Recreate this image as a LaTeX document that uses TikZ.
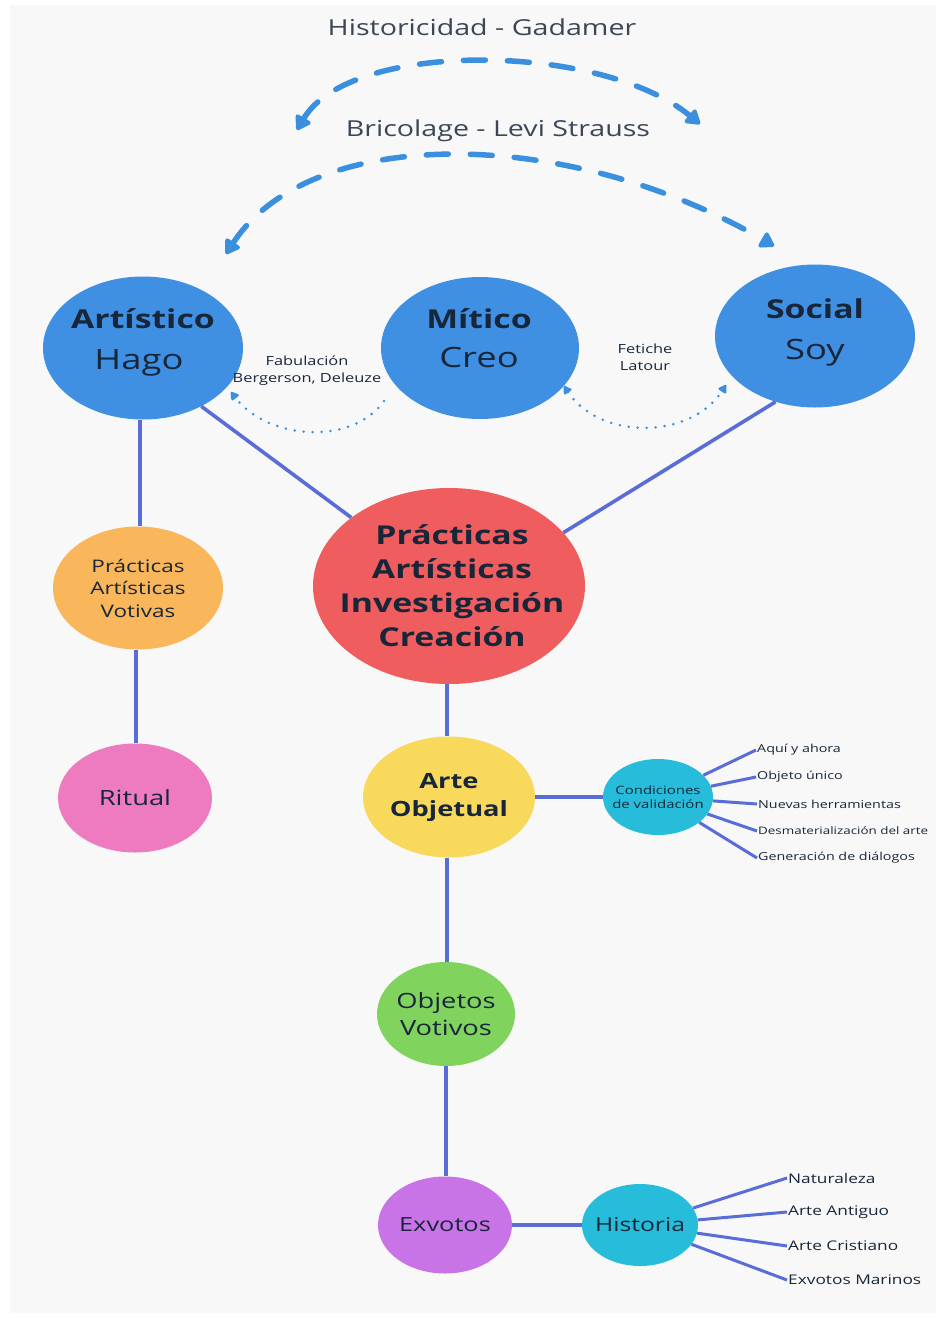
\documentclass[tikz,border=0pt]{standalone}
\usepackage{fontspec}
\setmainfont{Open Sans}[FakeStretch=1.3]
\usetikzlibrary{shapes.geometric,arrows.meta}
\definecolor{bgc}{HTML}{F8F8F8}
\definecolor{cblue}{HTML}{3F8FE2}
\definecolor{cred}{HTML}{F05D5E}
\definecolor{corange}{HTML}{F9B65A}
\definecolor{cpink}{HTML}{EE7BC0}
\definecolor{cyellow}{HTML}{F8D95C}
\definecolor{ccyan}{HTML}{27BCD9}
\definecolor{cgreen}{HTML}{80D35C}
\definecolor{cpurple}{HTML}{C873E6}
\definecolor{cline}{HTML}{5A6CD8}
\definecolor{ctext}{HTML}{18263A}
\definecolor{carc}{HTML}{3B8FDF}
\begin{document}
\begin{tikzpicture}[x=1pt,y=-1pt,
  bubble/.style={ellipse, draw=none, inner sep=0pt},
  intxt/.style={text=ctext, align=center, inner sep=0pt},
  conn/.style={draw=cline, line width=3.6pt},
  twig/.style={draw=cline, line width=3pt},
  dasharc/.style={draw=carc, line width=5.5pt, line cap=round, dash pattern=on 22pt off 22pt},
  dotarc/.style={draw=carc, line width=2.8pt, line cap=round, dash pattern=on 0pt off 9pt},
  bigtips/.style={{Triangle[width=19pt,length=16pt,round]}-{Triangle[width=19pt,length=16pt,round]}},
  smalltip/.style={-{Triangle[width=10pt,length=9pt,round]}},
  smalltips/.style={{Triangle[width=10pt,length=9pt,round]}-{Triangle[width=10pt,length=9pt,round]}},
  ttl/.style={text=ctext!85, font=\fontsize{22}{26}\selectfont},
  headA/.style={text=ctext, anchor=base, font=\fontsize{26}{30}\selectfont\bfseries},
  headB/.style={text=ctext, anchor=base, font=\fontsize{28}{30}\selectfont},
  small/.style={text=ctext, font=\fontsize{12.6}{17}\selectfont, align=center},
  leaf/.style={text=ctext, anchor=west, inner sep=1pt, font=\fontsize{11}{13}\selectfont},
  leafb/.style={text=ctext, anchor=west, inner sep=1pt, font=\fontsize{13.3}{16}\selectfont}
]
\fill[white] (0,0) rectangle (936,1318);
\fill[bgc] (10,5) rectangle (936,1313);
\useasboundingbox (0,0) rectangle (936,1318);

% titles
\node[ttl] (hist) at (482,27) {Historicidad - Gadamer};
\node[ttl] (bric) at (498,131) {Bricolage - Levi Strauss};

% top bubbles
\node[bubble, fill=cblue, minimum width=200pt, minimum height=143pt] (art) at (143,348) {};
\node[headA] (artA) at (143,328) {Artístico};
\node[headB] (artB) at (139,369) {Hago};
\node[bubble, fill=cblue, minimum width=198pt, minimum height=142pt] (mit) at (480,348) {};
\node[headA] (mitA) at (479,328) {Mítico};
\node[headB] (mitB) at (479,367) {Creo};
\node[bubble, fill=cblue, minimum width=200pt, minimum height=143pt] (soc) at (815,336) {};
\node[headA] (socA) at (815,318) {Social};
\node[headB] (socB) at (815,359) {Soy};

% central and tree bubbles
\node[bubble, fill=cred, minimum width=272pt, minimum height=196pt,
  label={[intxt, font=\fontsize{26}{34}\selectfont\bfseries, xshift=3pt]center:Prácticas\\Artísticas\\Investigación\\Creación}] (pra) at (449,586) {};
\node[bubble, fill=corange, minimum width=170pt, minimum height=123pt,
  label={[intxt, font=\fontsize{17.3}{22.5}\selectfont]center:Prácticas\\Artísticas\\Votivas}] (vot) at (138,588) {};
\node[bubble, fill=cpink, minimum width=154pt, minimum height=109pt,
  label={[intxt, font=\fontsize{21}{24}\selectfont]center:Ritual}] (rit) at (135,798) {};
\node[bubble, fill=cyellow, minimum width=172pt, minimum height=121pt,
  label={[intxt, font=\fontsize{21}{28}\selectfont\bfseries]center:Arte\\Objetual}] (obj) at (449,797) {};
\node[bubble, fill=ccyan, minimum width=110pt, minimum height=76pt,
  label={[intxt, font=\fontsize{11.5}{14}\selectfont]center:Condiciones\\de validación}] (cond) at (658,797) {};
\node[bubble, fill=cgreen, minimum width=138pt, minimum height=104pt,
  label={[intxt, font=\fontsize{21}{27}\selectfont]center:Objetos\\Votivos}] (ovo) at (446,1014) {};
\node[bubble, fill=cpurple, minimum width=134pt, minimum height=97pt,
  label={[intxt, font=\fontsize{19.5}{22}\selectfont]center:Exvotos}] (exv) at (445,1225) {};
\node[bubble, fill=ccyan, minimum width=116pt, minimum height=82pt,
  label={[intxt, font=\fontsize{19}{22}\selectfont]center:Historia}] (his) at (640,1225) {};

% labels between bubbles
\node[small] (fab) at (307,371) {Fabulación\\Bergerson, Deleuze};
\node[small] (fet) at (645,357) {Fetiche\\Latour};

% leaves
\node[leaf] (l1) at (756,750) {Aquí y ahora};
\node[leaf] (l2) at (756,777) {Objeto único};
\node[leaf] (l3) at (757,804) {Nuevas herramientas};
\node[leaf, font=\fontsize{10.3}{13}\selectfont] (l4) at (757,831) {Desmaterialización del arte};
\node[leaf] (l5) at (757,858) {Generación de diálogos};

\node[leafb] (h1) at (787,1178) {Naturaleza};
\node[leafb] (h2) at (787,1212) {Arte Antiguo};
\node[leafb] (h3) at (787,1246) {Arte Cristiano};
\node[leafb] (h4) at (787,1280) {Exvotos Marinos};

% tree connectors
\draw[conn] (art.south -| 140,0) -- (vot.north -| 140,0);
\draw[conn] (vot.south -| 136,0) -- (rit.north -| 136,0);
\draw[conn] (art.-45) -- (pra.145);
\draw[conn] (soc.239) -- (pra.25);
\draw[conn] (pra.south -| 447,0) -- (obj.north -| 447,0);
\draw[conn] (obj.east) -- (cond.west);
\draw[conn] (obj.south -| 447,0) -- (ovo.north -| 447,0);
\draw[conn] (ovo.south -| 446,0) -- (exv.north -| 446,0);
\draw[conn] (exv.east) -- (his.west);

\foreach \l in {l1,l2,l3,l4,l5} \draw[twig] (cond) -- (\l.west);
\foreach \l in {h1,h2,h3,h4} \draw[twig] (his) -- (\l.west);

% dashed arcs
\coordinate (a1) at (297,130);
\coordinate (a2) at (700,124);
\coordinate (b1) at (226,254);
\coordinate (b2) at (774,246);
\draw[dasharc, bigtips] (a1) .. controls (350,40) and (600,42) .. (a2);
\draw[dasharc, bigtips] (b1) .. controls (310,125) and (565,125) .. (b2);

% dotted arcs
\coordinate (d1) at (384,401);
\coordinate (d2) at (231,392);
\coordinate (e1) at (564,386);
\coordinate (e2) at (726,385);
\draw[dotarc, smalltip] (d1) .. controls (352,446) and (268,440) .. (d2);
\draw[dotarc, smalltips] (e1) .. controls (600,440) and (690,440) .. (e2);
\end{tikzpicture}
\end{document}
